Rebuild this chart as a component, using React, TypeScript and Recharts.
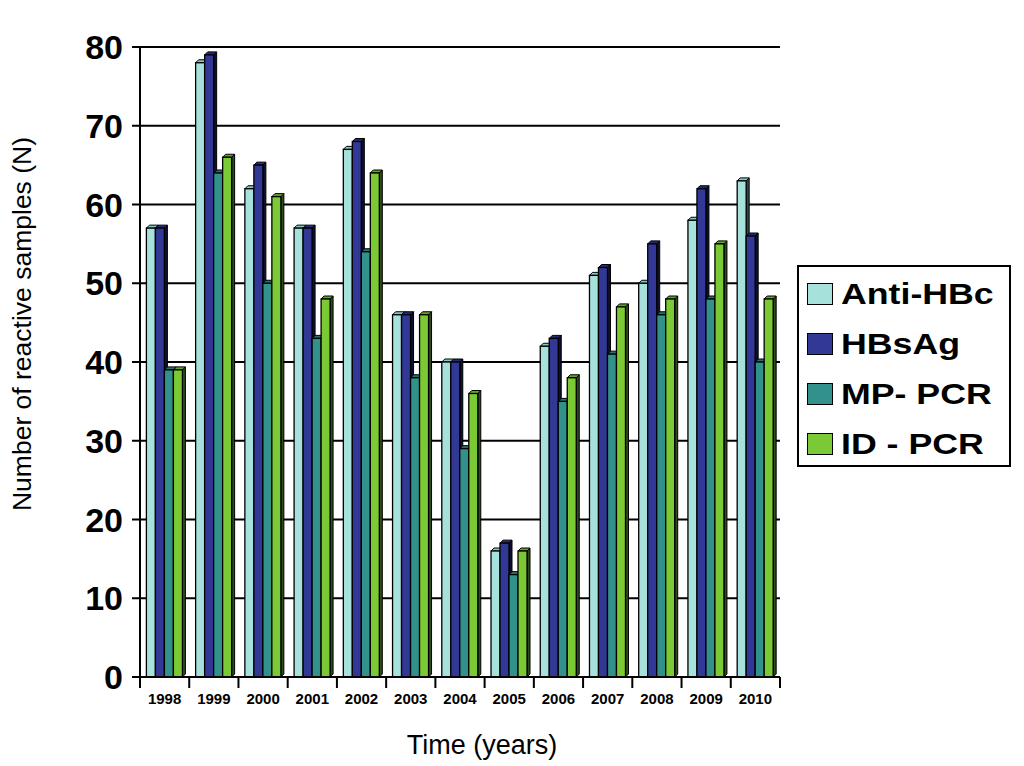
import { BarChart, Bar, XAxis, YAxis, CartesianGrid } from "recharts"

const years = ["1998", "1999", "2000", "2001", "2002", "2003", "2004", "2005", "2006", "2007", "2008", "2009", "2010"]
const antiHBc = [57, 78, 62, 57, 67, 46, 40, 16, 42, 51, 50, 58, 63]
const hbsAg = [57, 79, 65, 57, 68, 46, 40, 17, 43, 52, 55, 62, 56]
const mpPcr = [39, 64, 50, 43, 54, 38, 29, 13, 35, 41, 46, 48, 40]
const idPcr = [39, 66, 61, 48, 64, 46, 36, 16, 38, 47, 48, 55, 48]
const yTicks = [0, 10, 20, 30, 40, 50, 60, 70, 80]

const data = years.map((year, i) => ({
  year,
  antiHBc: antiHBc[i],
  hbsAg: hbsAg[i],
  mpPcr: mpPcr[i],
  idPcr: idPcr[i],
}))

const series = [
  { key: "antiHBc", name: "Anti-HBc", fill: "#a7e1db", top: "#86c9c2", side: "#2c4b48" },
  { key: "hbsAg", name: "HBsAg", fill: "#323895", top: "#252a75", side: "#0e1030" },
  { key: "mpPcr", name: "MP- PCR", fill: "#33918b", top: "#27726d", side: "#12302e" },
  { key: "idPcr", name: "ID - PCR", fill: "#7bc934", top: "#62a329", side: "#2f4a1c" },
]

const FONT = "Arial, 'Liberation Sans', Helvetica, sans-serif"
const W = 1024
const H = 766
const MARGIN = { top: 47, right: 244, bottom: 59, left: 0 }
const Y_AXIS_W = 140
const PLOT_W = W - MARGIN.right - Y_AXIS_W
const BAND = PLOT_W / years.length
const DEPTH = 3

function Bar3D(props: any) {
  const { x, y, width, height, fill, top, side } = props
  if (!height || height <= 0) return null
  const d = DEPTH
  return (
    <g>
      <polygon
        points={`${x + width},${y} ${x + width + d},${y - d} ${x + width + d},${y + height - d} ${x + width},${y + height}`}
        fill={side}
        stroke="#000"
        strokeWidth={1}
      />
      <polygon
        points={`${x},${y} ${x + d},${y - d} ${x + width + d},${y - d} ${x + width},${y}`}
        fill={top}
        stroke="#000"
        strokeWidth={1}
      />
      <rect x={x} y={y} width={width} height={height} fill={fill} stroke="#000" strokeWidth={1.3} />
    </g>
  )
}

function YearTick(props: any) {
  const { x, y, payload, index } = props
  const half = BAND / 2
  return (
    <g>
      <line x1={x - half} y1={y} x2={x - half} y2={y + 11} stroke="#000" strokeWidth={2} />
      {index === years.length - 1 && (
        <line x1={x + half} y1={y} x2={x + half} y2={y + 11} stroke="#000" strokeWidth={2} />
      )}
      <text x={x} y={y + 27} textAnchor="middle" fontSize={15} fontWeight="bold" fill="#000">
        {payload.value}
      </text>
    </g>
  )
}

export default function App() {
  return (
    <div style={{ position: "absolute", left: 0, top: 0, width: W, height: H, background: "#fff", fontFamily: FONT }}>
      <BarChart
        width={W}
        height={H}
        data={data}
        margin={MARGIN}
        barCategoryGap="13%"
        barGap={0}
        style={{ fontFamily: FONT }}
      >
        <CartesianGrid vertical={false} stroke="#000" strokeWidth={2} />
        <XAxis
          dataKey="year"
          height={30}
          tickLine={false}
          tickSize={0}
          tickMargin={0}
          interval={0}
          axisLine={{ stroke: "#000", strokeWidth: 2 }}
          tick={<YearTick />}
        />
        <YAxis
          width={Y_AXIS_W}
          domain={[0, 80]}
          ticks={yTicks}
          interval={0}
          tickSize={8}
          tickMargin={9}
          axisLine={{ stroke: "#000", strokeWidth: 2 }}
          tickLine={{ stroke: "#000", strokeWidth: 2 }}
          tick={{ fontSize: 34, fontWeight: "bold", fill: "#000" }}
        />
        <YAxis
          yAxisId="right"
          orientation="right"
          width={0}
          domain={[0, 80]}
          tick={false}
          tickLine={false}
          axisLine={{ stroke: "#000", strokeWidth: 2 }}
        />
        {series.map((s) => (
          <Bar
            key={s.key}
            dataKey={s.key}
            name={s.name}
            fill={s.fill}
            isAnimationActive={false}
            shape={(p: any) => <Bar3D {...p} fill={s.fill} top={s.top} side={s.side} />}
          />
        ))}
      </BarChart>

      <div
        style={{
          position: "absolute",
          left: 22,
          top: 324,
          transform: "translate(-50%, -50%) rotate(-90deg)",
          whiteSpace: "nowrap",
          fontSize: 26.5,
          color: "#000",
        }}
      >
        Number of reactive samples (N)
      </div>

      <div
        style={{
          position: "absolute",
          left: 482,
          top: 745,
          transform: "translate(-50%, -50%)",
          whiteSpace: "nowrap",
          fontSize: 27,
          color: "#000",
        }}
      >
        Time (years)
      </div>

      <div
        style={{
          position: "absolute",
          left: 797,
          top: 265,
          width: 210,
          height: 198,
          border: "2px solid #000",
          background: "#fff",
          boxSizing: "content-box",
        }}
      >
        {series.map((s, i) => (
          <div
            key={s.key}
            style={{
              position: "absolute",
              left: 8,
              top: 12 + i * 50,
              height: 30,
              display: "flex",
              alignItems: "center",
              whiteSpace: "nowrap",
            }}
          >
            <span
              style={{
                display: "inline-block",
                width: 24,
                height: 20,
                background: s.fill,
                border: "1.5px solid #000",
                marginRight: 8,
              }}
            />
            <span
              style={{
                display: "inline-block",
                fontSize: 30,
                fontWeight: "bold",
                color: "#000",
                transform: "scaleX(1.19)",
                transformOrigin: "left center",
              }}
            >
              {s.name}
            </span>
          </div>
        ))}
      </div>
    </div>
  )
}
